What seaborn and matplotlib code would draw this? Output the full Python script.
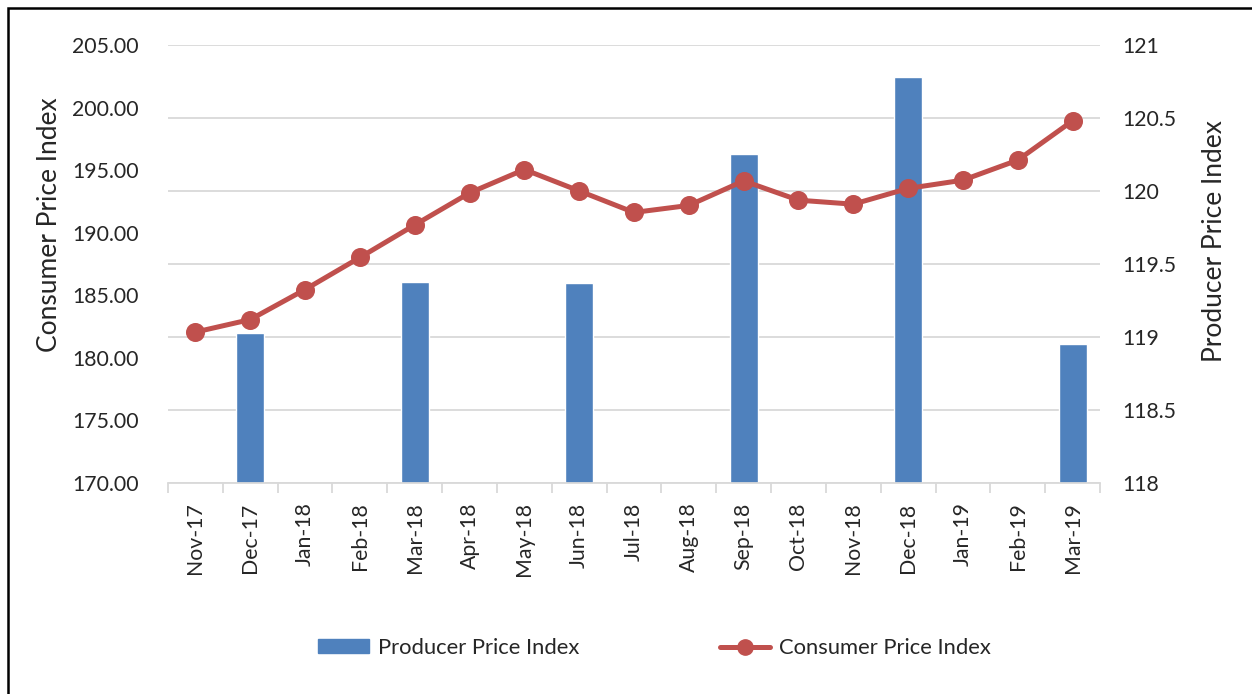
import numpy as np
import pandas as pd
import matplotlib
matplotlib.use("Agg")
import matplotlib.pyplot as plt
from matplotlib.lines import Line2D
from matplotlib.patches import Patch, Rectangle
import seaborn as sns

months = ["Nov-17", "Dec-17", "Jan-18", "Feb-18", "Mar-18", "Apr-18", "May-18",
          "Jun-18", "Jul-18", "Aug-18", "Sep-18", "Oct-18", "Nov-18", "Dec-18",
          "Jan-19", "Feb-19", "Mar-19"]
cpi = [182.06, 183.06, 185.46, 188.02, 190.62, 193.18, 195.05, 193.34, 191.62,
       192.18, 194.14, 192.60, 192.28, 193.54, 194.20, 195.80, 198.94]
# PPI is only published quarterly
ppi = [np.nan, 119.03, np.nan, np.nan, 119.38, np.nan, np.nan, 119.37, np.nan,
       np.nan, 120.25, np.nan, np.nan, 120.78, np.nan, np.nan, 118.95]

BAR_C = "#4F81BD"
LINE_C = "#C0504D"
GRID_C = "#D9D9D9"

sns.set_theme(style="white")
plt.rcParams["font.family"] = ["Lato", "DejaVu Sans"]

df = pd.DataFrame({"month": months, "cpi": cpi, "ppi": ppi})

W, H = 1252, 694
fig = plt.figure(figsize=(W / 100, H / 100), dpi=100)
ax = fig.add_axes([168 / W, 1 - 483 / H, (1100 - 168) / W, (483 - 45) / H])

# line (CPI) on the left axis
sns.pointplot(data=df, x="month", y="cpi", order=months, color=LINE_C,
              markers="o", errorbar=None, ax=ax, markersize=11, linewidth=3.6)

# bars (PPI) on the right axis
ax2 = ax.twinx()
sns.barplot(data=df, x="month", y="ppi", order=months, color=BAR_C,
            saturation=1, width=0.51, errorbar=None, ax=ax2)

# keep line above the bars, grid behind the bars
ax.set_zorder(ax2.get_zorder() + 1)
ax.patch.set_visible(False)
ax2.yaxis.grid(True, color=GRID_C, linewidth=1.3)
ax2.set_axisbelow(True)

ax.set_ylim(170, 205)
ax.set_yticks(np.arange(170, 205.1, 5))
ax.yaxis.set_major_formatter(lambda v, p: f"{v:.2f}")
ax2.set_ylim(118, 121)
ax2.set_yticks(np.arange(118, 121.01, 0.5))
ax2.yaxis.set_major_formatter(lambda v, p: f"{v:g}")

ax.set_xlim(-0.5, len(months) - 0.5)
ax.set_xticks(range(len(months)))
ax.set_xticklabels(months, rotation=90)
ax.set_xticks(np.arange(-0.5, len(months)), minor=True)
ax.tick_params(axis="x", which="major", length=0, labelsize=15.3, pad=14)
ax.tick_params(axis="x", which="minor", length=7, width=1.3, color=GRID_C,
               direction="out", bottom=True)
ax.tick_params(axis="y", length=0, labelsize=15.3, pad=21)
ax2.tick_params(axis="y", length=0, labelsize=15.3, pad=16)
ax.set_xlabel("")
ax2.set_xlabel("")

for s in ax.spines.values():
    s.set_visible(False)
ax.spines["bottom"].set_visible(True)
ax.spines["bottom"].set_color(GRID_C)
ax.spines["bottom"].set_linewidth(1.3)
for s in ax2.spines.values():
    s.set_visible(False)

ax.set_ylabel("Consumer Price Index", fontsize=19)
ax.yaxis.set_label_coords((62 - 168) / 932, 0.589)
ax2.set_ylabel("Producer Price Index", fontsize=19)
ax2.yaxis.set_label_coords((1202 - 168) / 932, 0.553)

handles = [Patch(color=BAR_C, label="Producer Price Index"),
           Line2D([], [], color=LINE_C, linewidth=3.6, marker="o", markersize=11,
                  label="Consumer Price Index")]
fig.legend(handles=handles, loc="center", bbox_to_anchor=(0.5228, 0.066), ncol=2,
           frameon=False, fontsize=15.8, handlelength=2.3, handleheight=0.6,
           handletextpad=0.4, columnspacing=6.4)

# chart border (only left/top edges fall inside the image)
fig.patches.append(Rectangle((7.5 / W, -0.5), 2, 0.5 + 1 - 8 / H, transform=fig.transFigure,
                             fill=False, edgecolor="black", linewidth=1.8))

fig.savefig("out.png", dpi=100, facecolor="white")
